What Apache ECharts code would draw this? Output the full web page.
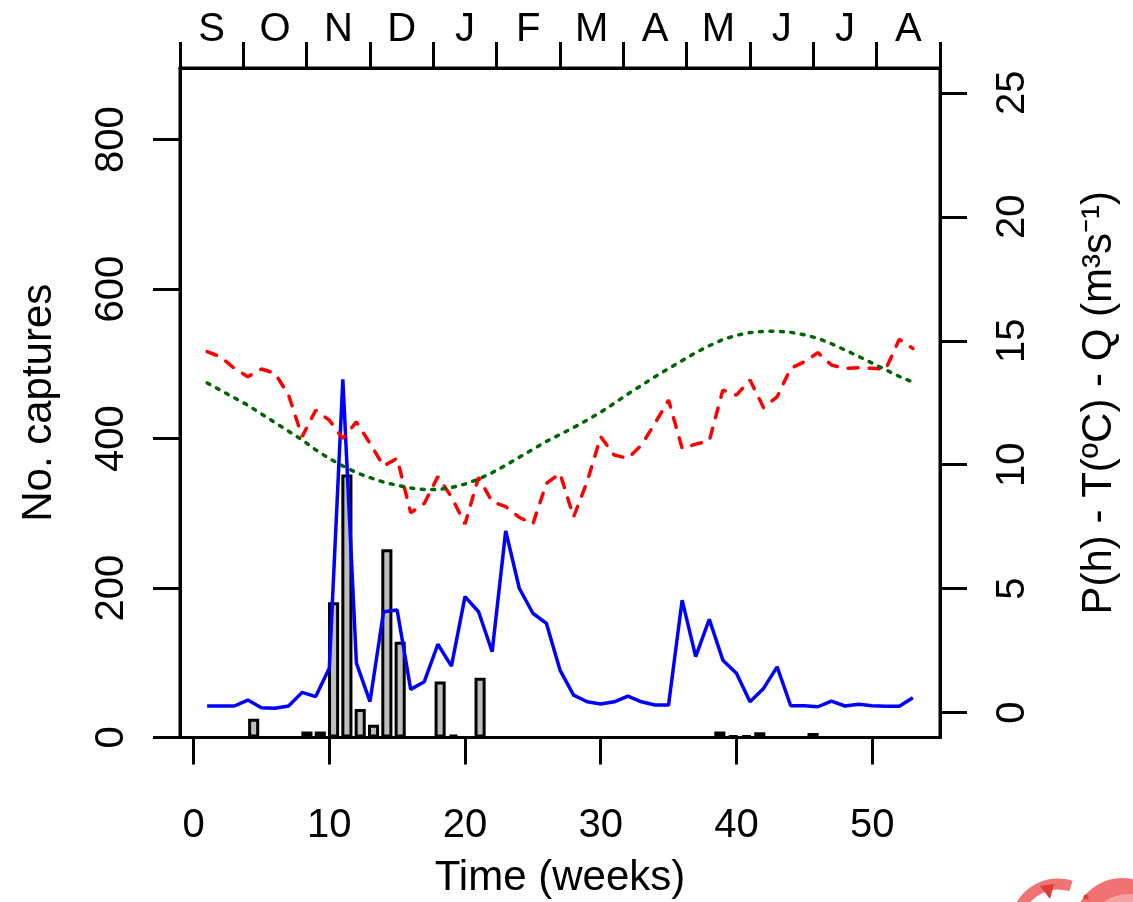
<!DOCTYPE html>
<html>
<head>
<meta charset="utf-8">
<title>Captures</title>
<script src="https://cdn.jsdelivr.net/npm/echarts@6/dist/echarts.min.js"></script>
<style>
  html, body { margin: 0; padding: 0; background: #fff; }
  #chart { width: 1133px; height: 902px; }
</style>
</head>
<body>
<div id="chart"></div>
<script>
  // data
  const months = ['S', 'O', 'N', 'D', 'J', 'F', 'M', 'A', 'M', 'J', 'J', 'A'];
  const weekTicks = [0, 10, 20, 30, 40, 50];
  const captureTicks = [0, 200, 400, 600, 800];
  const rightTicks = [0, 5, 10, 15, 20, 25];

  const weeks = [1, 2, 3, 4, 5, 6, 7, 8, 9, 10, 11, 12, 13, 14, 15, 16, 17, 18, 19, 20,
    21, 22, 23, 24, 25, 26, 27, 28, 29, 30, 31, 32, 33, 34, 35, 36, 37, 38, 39, 40,
    41, 42, 43, 44, 45, 46, 47, 48, 49, 50, 51, 52, 53];

  // No. captures per week (bars)
  const captures = [0, 0, 0, 25, 0, 0, 0, 8, 8, 181, 352, 38, 17, 252, 128, 0, 0, 75, 4, 0,
    80, 0, 0, 0, 0, 0, 0, 0, 0, 0, 0, 0, 0, 0, 0, 0, 0, 0, 8, 3,
    3, 7, 0, 0, 0, 6, 0, 0, 0, 0, 0, 0, 0];

  // Q (m3 s-1), blue solid
  const discharge = [0.27, 0.27, 0.27, 0.51, 0.2, 0.18, 0.27, 0.82, 0.65, 1.79, 13.44, 2.0, 0.45, 4.07, 4.14, 0.94, 1.25, 2.76, 1.88, 4.68,
    4.07, 2.46, 7.33, 5.02, 4.01, 3.6, 1.72, 0.71, 0.44, 0.35, 0.44, 0.67, 0.44, 0.31, 0.31, 4.54, 2.26, 3.77, 2.12, 1.59,
    0.44, 0.98, 1.85, 0.28, 0.28, 0.24, 0.47, 0.27, 0.34, 0.28, 0.26, 0.26, 0.6];

  // T (ºC), red dashed
  const temperature = [14.56, 14.35, 13.89, 13.55, 13.86, 13.69, 12.81, 11.13, 12.2, 11.8, 11.06, 11.73, 10.86, 9.95, 10.26, 8.06, 8.44, 9.52, 8.71, 7.61,
    9.49, 8.51, 8.31, 7.88, 7.61, 9.25, 9.65, 7.9, 9.31, 11.13, 10.39, 10.26, 10.79, 11.67, 12.61, 10.66, 10.83, 10.97, 13.01, 12.81,
    13.42, 12.3, 12.74, 13.89, 14.15, 14.52, 14.02, 13.89, 13.91, 13.89, 13.85, 15.06, 14.69];

  // P (h), green dotted
  const photoperiod = [13.3, 13.0, 12.7, 12.4, 12.05, 11.7, 11.35, 11.0, 10.6, 10.25, 9.95, 9.68, 9.48, 9.3, 9.17, 9.06, 9.0, 9.0, 9.08, 9.22,
    9.42, 9.68, 9.98, 10.3, 10.62, 10.94, 11.22, 11.5, 11.8, 12.12, 12.48, 12.85, 13.2, 13.55, 13.88, 14.2, 14.52, 14.8, 15.05, 15.22,
    15.33, 15.38, 15.39, 15.34, 15.24, 15.1, 14.88, 14.63, 14.37, 14.1, 13.83, 13.56, 13.33];

  const font = '"Liberation Sans", Arial, sans-serif';
  const fs = 40;      // tick labels
  const fsName = 42;  // axis titles
  const black = '#000';
  const lw = 3;

  let myChart = echarts.init(document.getElementById('chart'));

  // bars sit on their own hidden axis, like barplot() (width 1, space 0.2)
  let barData = captures.map(function (v, i) { return [0.7 + 1.2 * i, v]; });
  let pair = function (arr) { return weeks.map(function (w, i) { return [w, arr[i]]; }); };

  let option = {
    animation: false,
    backgroundColor: '#fff',
    textStyle: { fontFamily: font, color: black },
    grid: {
      left: 180, right: 193, top: 68, bottom: 164.5,
      outerBoundsMode: 'none', containLabel: false,
      show: true, borderColor: black, borderWidth: lw, backgroundColor: 'transparent'
    },
    xAxis: [
      {
        type: 'value', position: 'bottom', min: -1, max: 55,
        axisLine: { show: true, onZero: false, lineStyle: { color: black, width: lw } },
        axisTick: { show: true, customValues: weekTicks, length: 27, lineStyle: { color: black, width: lw } },
        axisLabel: { customValues: weekTicks, margin: 68, fontSize: fs, color: black, fontFamily: font },
        splitLine: { show: false },
        name: 'Time (weeks)', nameLocation: 'middle', nameGap: 120,
        nameTextStyle: { fontSize: fsName, color: black, fontFamily: font }
      },
      {
        type: 'category', position: 'top', data: months, boundaryGap: true,
        axisLine: { show: true, onZero: false, lineStyle: { color: black, width: lw } },
        axisTick: { show: true, interval: 0, length: 26, lineStyle: { color: black, width: lw } },
        axisLabel: { interval: 0, margin: 18, fontSize: fs, color: black, fontFamily: font },
        splitLine: { show: false }
      },
      { type: 'value', min: -2.336, max: 66.136, show: false, axisLine: { onZero: false } }
    ],
    yAxis: [
      {
        type: 'value', position: 'left', min: 0, max: 896,
        axisLine: { show: true, onZero: false, lineStyle: { color: black, width: lw } },
        axisTick: { show: true, customValues: captureTicks, length: 27, lineStyle: { color: black, width: lw } },
        axisLabel: { customValues: captureTicks, rotate: 90, margin: 48, fontSize: fs, color: black, fontFamily: font },
        splitLine: { show: false },
        name: 'No. captures', nameLocation: 'middle', nameGap: 120,
        nameTextStyle: { fontSize: fsName, color: black, fontFamily: font }
      },
      {
        type: 'value', position: 'right', min: -1, max: 26,
        axisLine: { show: true, onZero: false, lineStyle: { color: black, width: lw } },
        axisTick: { show: true, customValues: rightTicks, length: 27, lineStyle: { color: black, width: lw } },
        axisLabel: { customValues: rightTicks, rotate: 90, margin: 53, fontSize: fs, color: black, fontFamily: font },
        splitLine: { show: false },
        name: 'P(h) - T(ºC) - Q (m³s⁻¹)', nameLocation: 'middle', nameGap: 138,
        nameTextStyle: { fontSize: fsName, color: black, fontFamily: font }
      }
    ],
    series: [
      {
        type: 'bar', name: 'captures', xAxisIndex: 2, yAxisIndex: 0,
        data: barData, barWidth: '83.33%',
        itemStyle: { color: '#BEBEBE', borderColor: black, borderWidth: lw }
      },
      {
        type: 'line', name: 'Q', xAxisIndex: 0, yAxisIndex: 1,
        data: pair(discharge), symbol: 'none',
        lineStyle: { color: '#0000FF', width: 3.5 }
      },
      {
        type: 'line', name: 'T', xAxisIndex: 0, yAxisIndex: 1,
        data: pair(temperature), symbol: 'none',
        lineStyle: { color: '#FF0000', width: 3.5, type: [10, 11], cap: 'round' }
      },
      {
        type: 'line', name: 'P', xAxisIndex: 0, yAxisIndex: 1,
        data: pair(photoperiod), symbol: 'none',
        lineStyle: { color: '#006400', width: 3.5, type: [3, 7.5], cap: 'round' }
      }
    ],
    graphic: [
      // partial red logo cut by the bottom edge
      { type: 'arc', shape: { cx: 1058, cy: 926, r: 42, startAngle: Math.PI * 1.05, endAngle: Math.PI * 1.6 },
        style: { stroke: '#f07474', lineWidth: 11, fill: 'none' } },
      { type: 'polygon', shape: { points: [[1040, 886], [1054, 884], [1050, 899]] }, style: { fill: '#e53935' } },
      { type: 'circle', shape: { cx: 1122, cy: 926, r: 48 }, style: { fill: '#f07272' } },
      { type: 'circle', shape: { cx: 1128, cy: 934, r: 40 }, style: { fill: '#f4a3a3' } },
      { type: 'circle', shape: { cx: 1086, cy: 897, r: 2.5 }, style: { fill: '#e53935' } }
    ]
  };

  if (option && typeof option === 'object') {
    myChart.setOption(option, true);
  }
</script>
</body>
</html>
